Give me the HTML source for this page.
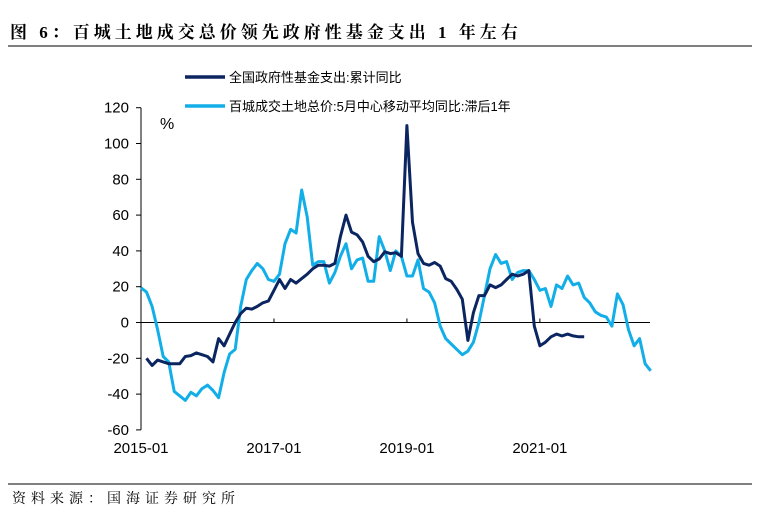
<!DOCTYPE html>
<html><head><meta charset="utf-8"><style>
body{margin:0;background:#fff;}
svg{display:block;font-family:"Liberation Sans","Noto Sans CJK SC",sans-serif;}
</style></head><body>
<svg id="c" width="760" height="531" viewBox="0 0 760 531">
<text x="10" y="38" font-size="17" font-weight="bold" fill="#000" letter-spacing="4" style="font-family:'Liberation Serif','Noto Serif CJK SC',serif">图 6：百城土地成交总价领先政府性基金支出 1 年左右</text>
<line x1="8" y1="46" x2="752" y2="46" stroke="#000" stroke-width="1"/>
<line x1="8" y1="484" x2="752" y2="484" stroke="#000" stroke-width="1"/>
<text x="12" y="503" font-size="14" fill="#000" letter-spacing="5" style="font-family:'Liberation Serif','Noto Serif CJK SC',serif">资料来源：国海证券研究所</text>
<text x="160" y="129" font-size="16" fill="#000">%</text>
<line x1="185" y1="77" x2="225" y2="77" stroke="#0b2560" stroke-width="3.5"/>
<text x="229" y="82" font-size="13" fill="#000">全国政府性基金支出:累计同比</text>
<line x1="185" y1="106" x2="225" y2="106" stroke="#12aee8" stroke-width="3.5"/>
<text x="229" y="111" font-size="13" fill="#000">百城成交土地总价:5月中心移动平均同比:滞后1年</text>
<g id="axes"></g>
<g id="series"></g>
</svg>
<script>
const yTicks=[120,100,80,60,40,20,0,-20,-40,-60];
const xTickLabels=["2015-01","2017-01","2019-01","2021-01"];
const xTickMonths=[0,24,48,72];
const landValues=[19.4,17,9,-4,-19,-22,-38.5,-41,-43.5,-39,-41,-37,-35,-38,-42,-28,-17.6,-15,9,24,29,33,30,24,23,27,44,52,50,74,59,32,34,34,22,28,37,44,30,35,36,23,23,48,40,29,40,37,26,26,35,19,17,11,-2,-9,-12,-15,-18,-16,-11,0,15,30,38,33,34,24,28,29,29,24,18,19,9,21,19,26,21,22,14,11,6,4,3,-2,16,10,-4,-13,-9,-23,-27];
const landStart=0;
const fundValues=[-20,-24,-21,-22,-23,-23,-23,-19,-18.5,-17,-18,-19,-22,-9,-13,-6.5,0,5,8,7.5,9,11,12,18,24,19,24,22,24.5,27,30,32,32,31.5,33,48,60,50.5,49,45,37,34,35.5,39.5,38.5,39,37,110,56,38.5,33,32,33.5,31.5,24.5,23,18.5,13,-10,5.5,15,15,21,19.5,21,24,27,26,27,29,-2,-13,-11,-8,-6.5,-7.5,-6.5,-7.5,-8,-8];
const fundStart=1;
const NS="http://www.w3.org/2000/svg";
const X0=141,XM=5.54,Y0=322.5,YU=1.79;
function xs(m){return X0+m*XM;}
function ys(v){return Y0-v*YU;}
const ax=document.getElementById('axes'),se=document.getElementById('series');
function mk(t,a,p){const e=document.createElementNS(NS,t);for(const k in a)e.setAttribute(k,a[k]);p.appendChild(e);return e;}
let yl=mk('line',{x1:X0,y1:ys(120),x2:X0,y2:ys(-60),stroke:'#000','stroke-width':1},ax);


yTicks.forEach(v=>{
 const t=mk('line',{x1:X0-5,y1:ys(v),x2:X0,y2:ys(v),stroke:'#000'},ax);
 
 
 const l=mk('text',{x:X0-12,y:ys(v)+5,'font-size':15,'text-anchor':'end',fill:'#000'},ax);
 l.textContent=v;
 
 
});
let zl=mk('line',{x1:X0,y1:ys(0),x2:650,y2:ys(0),stroke:'#000','stroke-width':1},ax);


xTickMonths.forEach((m,i)=>{
 const t=mk('line',{x1:xs(m),y1:ys(0)-4,x2:xs(m),y2:ys(0),stroke:'#000'},ax);
 
 
 const l=mk('text',{x:xs(m),y:453,'font-size':15,'text-anchor':'middle',fill:'#000'},ax);
 l.textContent=xTickLabels[i];
 
 
});
function path(vals,start){return vals.map((v,i)=>(i?'L':'M')+xs(start+i).toFixed(1)+','+ys(v).toFixed(1)).join('');}
const pl=mk('path',{d:path(landValues,landStart),fill:'none',stroke:'#12aee8','stroke-width':3,'stroke-linejoin':'round'},se);


const pf=mk('path',{d:path(fundValues,fundStart),fill:'none',stroke:'#0b2560','stroke-width':3,'stroke-linejoin':'round'},se);


</script>
</body></html>
